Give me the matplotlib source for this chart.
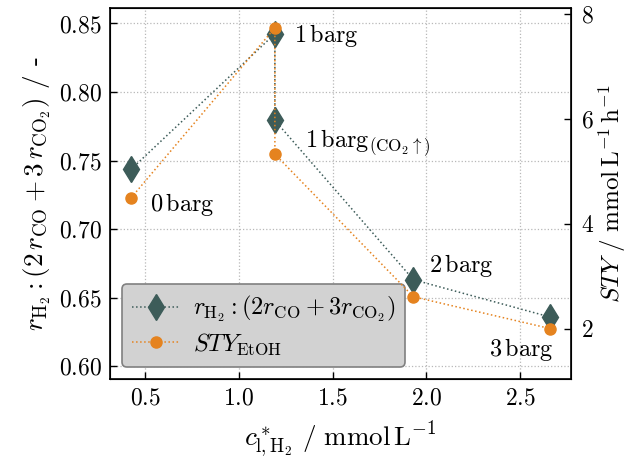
import matplotlib
matplotlib.use("Agg")
import matplotlib.pyplot as plt

plt.rcParams['font.family'] = 'serif'
plt.rcParams['font.serif'] = ['cmr10']
plt.rcParams['mathtext.fontset'] = 'cm'
plt.rcParams['axes.formatter.use_mathtext'] = True

# data
c_h2 = [0.424, 1.192, 1.192, 1.931, 2.66]
ratio = [0.7436, 0.8425, 0.7793, 0.6632, 0.636]
sty = [4.49, 7.73, 5.325, 2.611, 2.005]
labels = [r'$0\,\mathrm{barg}$', r'$1\,\mathrm{barg}$',
          r'$1\,\mathrm{barg}_{(\mathrm{CO_2}\uparrow)}$',
          r'$2\,\mathrm{barg}$', r'$3\,\mathrm{barg}$']

col_r = '#3d5c59'
col_s = '#e5831f'

fig = plt.figure(figsize=(6.32, 4.67), dpi=100)
ax = fig.add_axes([0.174, 0.189, 0.7295, 0.793])
ax2 = ax.twinx()

l1, = ax.plot(c_h2, ratio, ':', color=col_r, lw=1.1, marker='d', ms=13,
              label=r'$r_{\mathrm{H_2}} : (2r_{\mathrm{CO}} + 3r_{\mathrm{CO_2}})$')
l2, = ax2.plot(c_h2, sty, ':', color=col_s, lw=1.1, marker='o', ms=8,
               label=r'$STY_{\mathrm{EtOH}}$')

fs_ann = 17.5
ax.annotate(labels[1], (c_h2[1], ratio[1]), xytext=(14, -6), textcoords='offset points',
            fontsize=fs_ann, va='baseline', ha='left')
ax.annotate(labels[2], (c_h2[2], ratio[2]), xytext=(22, -19), textcoords='offset points',
            fontsize=fs_ann, va='baseline', ha='left')
ax.annotate(labels[3], (c_h2[3], ratio[3]), xytext=(11, 5.5), textcoords='offset points',
            fontsize=fs_ann, va='baseline', ha='left')
ax2.annotate(labels[0], (c_h2[0], sty[0]), xytext=(14, -9), textcoords='offset points',
             fontsize=fs_ann, va='baseline', ha='left')
ax2.annotate(labels[4], (c_h2[4], sty[4]), xytext=(2.5, -19.5), textcoords='offset points',
             fontsize=fs_ann, va='baseline', ha='right')

ax.set_ylim(0.591, 0.861)
ax2.set_ylim(1.05, 8.1)
ax2.set_yticks([2, 4, 6, 8])

ax.grid(True, ls=':', color='#b8b8b8', lw=0.9)
ax.set_axisbelow(True)

ax.tick_params(direction='in', labelsize=17, length=5, width=1, pad=6)
ax2.tick_params(direction='in', labelsize=17, length=5, width=1, pad=7.5)
for s in ax.spines.values():
    s.set_linewidth(1.2)

ax.set_xlabel(r'$c^*_{\mathrm{l,H_2}}\ /\ \mathrm{mmol\,L^{-1}}$', fontsize=19.5, labelpad=7)
ax.set_ylabel(r'$r_{\mathrm{H_2}} : (2\,r_{\mathrm{CO}} + 3\,r_{\mathrm{CO_2}})$ / -', fontsize=19.5, labelpad=4)
ax2.set_ylabel(r'$STY\ /\ \mathrm{mmol\,L^{-1}\,h^{-1}}$', fontsize=18, labelpad=1)

leg = ax.legend(handles=[l1, l2], loc='lower left', fontsize=17.5,
                facecolor='#d2d2d2', edgecolor='#808080', framealpha=1,
                handlelength=2.0, handletextpad=0.5, labelspacing=0.3,
                borderaxespad=0.5)
leg.get_frame().set_linewidth(1.2)

fig.savefig('out.png', dpi=100)
